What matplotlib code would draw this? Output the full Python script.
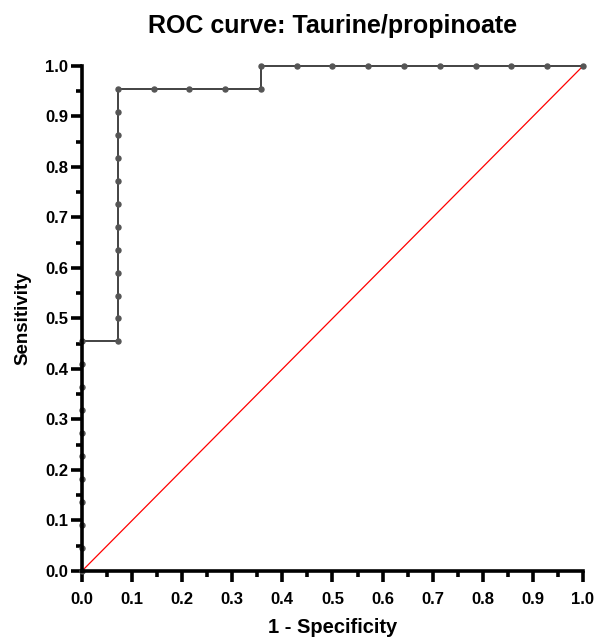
import numpy as np
import matplotlib.pyplot as plt

plt.rcParams['font.family'] = ['Liberation Sans', 'DejaVu Sans']
plt.rcParams['font.weight'] = 'bold'

# ROC points (1 - specificity, sensitivity), 14 controls / 22 cases
fpr = [0, 0, 0, 0, 0, 0, 0, 0, 0, 0, 0,
       1/14, 1/14, 1/14, 1/14, 1/14, 1/14, 1/14, 1/14, 1/14, 1/14, 1/14, 1/14,
       2/14, 3/14, 4/14, 5/14, 5/14,
       6/14, 7/14, 8/14, 9/14, 10/14, 11/14, 12/14, 13/14, 14/14]
tpr = [0/22, 1/22, 2/22, 3/22, 4/22, 5/22, 6/22, 7/22, 8/22, 9/22, 10/22,
       10/22, 11/22, 12/22, 13/22, 14/22, 15/22, 16/22, 17/22, 18/22, 19/22, 20/22, 21/22,
       21/22, 21/22, 21/22, 21/22, 22/22,
       1, 1, 1, 1, 1, 1, 1, 1, 1]
ticks = [0.0, 0.1, 0.2, 0.3, 0.4, 0.5, 0.6, 0.7, 0.8, 0.9, 1.0]

fig = plt.figure(figsize=(6.01, 6.42), dpi=100)
ax = fig.add_axes([0.1364, 0.1106, 0.8336, 0.7866])

ax.plot([0, 1], [0, 1], color='red', lw=0.9, zorder=2.2)
ax.plot(fpr, tpr, color='#222222', lw=1.2, marker='o', ms=3.6,
        mfc='#555555', mec='#555555', zorder=2.4, clip_on=False)

ax.set_xlim(0, 1)
ax.set_ylim(0, 1)
ax.set_xticks(ticks)
ax.set_yticks(ticks)
ax.set_xticks(np.arange(0.05, 1.0, 0.1), minor=True)
ax.set_yticks(np.arange(0.05, 1.0, 0.1), minor=True)
ax.set_xticklabels([f'{t:.1f}' for t in ticks])
ax.set_yticklabels([f'{t:.1f}' for t in ticks])

for s in ['top', 'right']:
    ax.spines[s].set_visible(False)
for s in ['left', 'bottom']:
    ax.spines[s].set_linewidth(2.6)
    ax.spines[s].set_zorder(3)
ax.tick_params(which='major', length=8, width=2.6, labelsize=12, direction='out')
ax.tick_params(axis='x', which='major', pad=7)
ax.tick_params(axis='y', which='major', pad=2)
ax.tick_params(which='minor', length=4, width=2.6, direction='out')

ax.set_xlabel('1 - Specificity', fontsize=14.5, fontweight='bold', labelpad=8)
ax.set_ylabel('Sensitivity', fontsize=13.5, fontweight='bold', labelpad=10)
ax.set_title('ROC curve: Taurine/propinoate', fontsize=18, fontweight='bold', pad=24)

fig.savefig('out.png', dpi=100)
